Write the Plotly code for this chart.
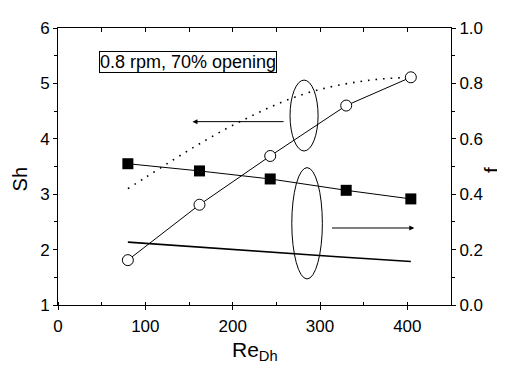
import plotly.graph_objects as go

# ---- data ----
re_exp = [80, 162, 243, 330, 404]
sh_exp = [1.81, 2.81, 3.69, 4.60, 5.11]
f_exp = [0.510, 0.484, 0.455, 0.414, 0.383]

re_sh_corr = [80, 100, 130, 160, 190, 220, 250, 280, 310, 340, 370, 404]
sh_corr = [3.10, 3.30, 3.60, 3.89, 4.16, 4.40, 4.62, 4.80, 4.93, 5.02, 5.08, 5.11]

re_f_corr = [80, 160, 240, 320, 404]
f_corr = [0.227, 0.209, 0.192, 0.174, 0.157]

x_ticks = [0, 100, 200, 300, 400]
sh_ticks = [1, 2, 3, 4, 5, 6]
f_ticks = [0.0, 0.2, 0.4, 0.6, 0.8, 1.0]

FONT = "Arial, Liberation Sans, sans-serif"

fig = go.Figure()

# Sh correlation (dotted)
fig.add_trace(go.Scatter(x=re_sh_corr, y=sh_corr, mode="lines",
                         line=dict(color="black", width=1.6, dash="1.6px,6px", shape="spline"),
                         xaxis="x", yaxis="y", showlegend=False, hoverinfo="skip"))
# Sh experimental (open circles)
fig.add_trace(go.Scatter(x=re_exp, y=sh_exp, mode="lines+markers",
                         line=dict(color="black", width=1),
                         marker=dict(symbol="circle", size=11, color="white",
                                     line=dict(color="black", width=1)),
                         xaxis="x", yaxis="y", showlegend=False))
# f correlation (solid)
fig.add_trace(go.Scatter(x=re_f_corr, y=f_corr, mode="lines",
                         line=dict(color="black", width=1.6),
                         xaxis="x", yaxis="y2", showlegend=False, hoverinfo="skip"))
# f experimental (filled squares)
fig.add_trace(go.Scatter(x=re_exp, y=f_exp, mode="lines+markers",
                         line=dict(color="black", width=1),
                         marker=dict(symbol="square", size=11, color="black"),
                         xaxis="x", yaxis="y2", showlegend=False))
# invisible trace to anchor top axis
fig.add_trace(go.Scatter(x=[0], y=[1], mode="markers", marker=dict(opacity=0),
                         xaxis="x2", yaxis="y", showlegend=False, hoverinfo="skip"))

# page body has an 8px default margin -> figure is 8px smaller and margins shifted
fig.update_layout(
    width=497, height=361,
    margin=dict(l=50, r=54, t=11, b=64),
    paper_bgcolor="white", plot_bgcolor="white",
    font=dict(family=FONT, size=17, color="black"),
    xaxis=dict(range=[0, 450], tickvals=x_ticks, ticks="outside", ticklen=4,
               tickwidth=1, tickcolor="black",
               minor=dict(dtick=50, tick0=0, ticks="inside", ticklen=3, tickcolor="black"),
               showline=True, linecolor="black", linewidth=1, showgrid=False,
               zeroline=False, tickfont=dict(size=17), ticklabelstandoff=2),
    xaxis2=dict(range=[0, 450], overlaying="x", side="top", tickvals=[50*i for i in range(10)],
                ticks="inside", ticklen=4, tickcolor="black", showticklabels=False,
                showline=True, linecolor="black", linewidth=1, showgrid=False,
                zeroline=False, anchor="y"),
    yaxis=dict(range=[1, 6], tickvals=sh_ticks, ticks="outside", ticklen=4,
               tickcolor="black",
               minor=dict(dtick=0.5, tick0=1, ticks="outside", ticklen=3, tickcolor="black"),
               showline=True, linecolor="black", linewidth=1, showgrid=False,
               zeroline=False, tickfont=dict(size=17)),
    yaxis2=dict(range=[0, 1], tickvals=f_ticks, tickformat=".1f", overlaying="y",
                side="right", ticks="outside", ticklen=4, tickcolor="black",
                minor=dict(dtick=0.1, tick0=0, ticks="outside", ticklen=3, tickcolor="black"),
                showline=True, linecolor="black", linewidth=1, showgrid=False,
                zeroline=False, tickfont=dict(size=17)),
)

# ellipses
fig.add_shape(type="circle", xref="x", yref="y", x0=265.7, x1=297.8, y0=3.78, y1=5.06,
              line=dict(color="black", width=1))
fig.add_shape(type="circle", xref="x", yref="y", x0=267.7, x1=302.7, y0=1.47, y1=3.48,
              line=dict(color="black", width=1))

# arrows
fig.add_annotation(x=154, y=4.31, ax=260, ay=4.31, xref="x", yref="y", axref="x", ayref="y",
                   showarrow=True, arrowhead=2, arrowsize=1, arrowwidth=1, arrowcolor="black", text="")
fig.add_annotation(x=408, y=2.39, ax=312, ay=2.39, xref="x", yref="y", axref="x", ayref="y",
                   showarrow=True, arrowhead=2, arrowsize=1, arrowwidth=1, arrowcolor="black", text="")

# text box
fig.add_annotation(x=148.5, y=5.39, xref="x", yref="y", text="0.8 rpm, 70% opening",
                   showarrow=False, font=dict(size=18), bordercolor="black", borderwidth=1,
                   borderpad=0, bgcolor="white", xanchor="center", yanchor="middle")

# axis titles
fig.add_annotation(x=-0.096, y=0.4545, xref="paper", yref="paper", text="Sh", textangle=-90,
                   showarrow=False, font=dict(size=20), xanchor="center", yanchor="middle")
fig.add_annotation(x=1.105, y=0.488, xref="paper", yref="paper", text="f", textangle=-90,
                   showarrow=False, font=dict(size=21), xanchor="center", yanchor="middle")
fig.add_annotation(x=0.5025, y=-0.165, xref="paper", yref="paper", text="Re<sub>Dh</sub>",
                   showarrow=False, font=dict(size=21), xanchor="center", yanchor="middle")

fig.write_html("out.html")
